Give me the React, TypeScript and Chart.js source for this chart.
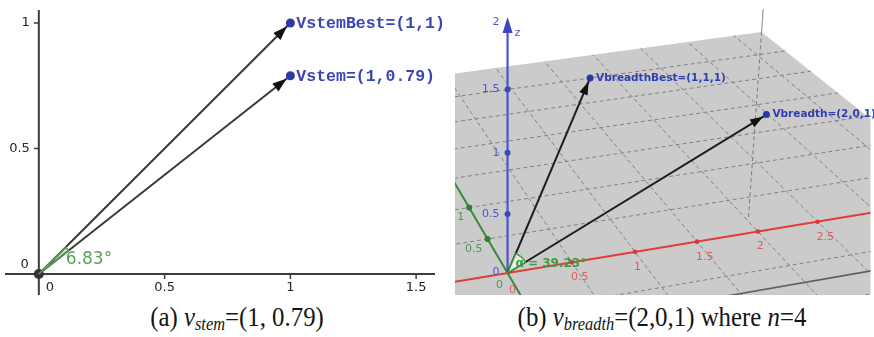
import React, { useEffect, useRef } from 'react';
import { Chart, registerables } from 'chart.js';

Chart.register(...registerables);

// ---------------- panel (a): 2D vectors ----------------
const stemNames = ['VstemBest', 'Vstem'];
const stemX = [1, 1];
const stemY = [1, 0.79];
const stemXTicks = [0, 0.5, 1, 1.5];
const stemYTicks = [0, 0.5, 1];
const stemAngleLabel = '6.83°';
const stemXRange = [-0.1345, 1.575];
const stemYRange = [-0.0837, 1.0518];

// ---------------- panel (b): 3D vectors ----------------
const breadthNames = ['VbreadthBest', 'Vbreadth'];
const breadthX = [1, 2];
const breadthY = [1, 0];
const breadthZ = [1, 1];
const axisXTicks3 = [0.5, 1, 1.5, 2, 2.5];
const axisYTicks3 = [0.5, 1];
const axisZTicks3 = [0.5, 1, 1.5, 2];
const breadthAngleLabel = 'α = 39.23°';
const planeX = [-2, 3.8];
const planeY = [-1.5, 3.5];
const gridStep = 0.5;
const boxZ = [-2.15, 0.25];
const nValue = 4;

// view (projection) of the 3D scene, in the hidden scale's units
const VIEW = { ax: [131, 21.5], ay: [-42, 71], az: [0, 116], depth: [0.019, 0.085, -0.0345] };
const sceneXRange = [-53, 366];
const sceneYRange = [-22, 268];

type P = { x: number; y: number };

function project(x: number, y: number, z: number): P {
  const d = 1 + VIEW.depth[0] * x + VIEW.depth[1] * y + VIEW.depth[2] * z;
  return {
    x: (VIEW.ax[0] * x + VIEW.ay[0] * y + VIEW.az[0] * z) / d,
    y: (VIEW.ax[1] * x + VIEW.ay[1] * y + VIEW.az[1] * z) / d,
  };
}

function segs(list: number[][][]): any[] {
  const out: any[] = [];
  list.forEach(([a, b]) => {
    out.push(project(a[0], a[1], a[2]), project(b[0], b[1], b[2]), { x: null, y: null });
  });
  return out;
}

function arrowHead(ctx: CanvasRenderingContext2D, from: P, to: P, len: number, half: number, back: number, color: string) {
  const dx = to.x - from.x, dy = to.y - from.y;
  const L = Math.hypot(dx, dy);
  const ux = dx / L, uy = dy / L;
  const tx = to.x - ux * back, ty = to.y - uy * back;
  const bx = tx - ux * len, by = ty - uy * len;
  ctx.beginPath();
  ctx.moveTo(tx, ty);
  ctx.lineTo(bx - uy * half, by + ux * half);
  ctx.lineTo(bx + uy * half, by - ux * half);
  ctx.closePath();
  ctx.fillStyle = color;
  ctx.fill();
}

const lineDs = (data: any[], color: string, width: number, order: number, dash: number[] = []) => ({
  data, showLine: true, borderColor: color, backgroundColor: color, borderWidth: width,
  borderDash: dash, pointRadius: 0, pointHoverRadius: 0, fill: false, tension: 0, order,
});
const dotDs = (data: any[], color: string, r: number, order: number) => ({
  data, showLine: false, pointRadius: r, pointHoverRadius: r, pointBackgroundColor: color,
  pointBorderColor: color, pointBorderWidth: 0, backgroundColor: color, borderColor: color, order,
});

const baseOptions = (xr: number[], yr: number[], padding: any) => ({
  responsive: false,
  animation: false as const,
  events: [] as any[],
  layout: { padding },
  scales: {
    x: { type: 'linear' as const, display: false, min: xr[0], max: xr[1] },
    y: { type: 'linear' as const, display: false, min: yr[0], max: yr[1] },
  },
  plugins: { legend: { display: false }, tooltip: { enabled: false }, colors: { enabled: false } },
});

function leftConfig(): any {
  const pts = stemX.map((x, i) => ({ x, y: stemY[i] }));
  const vec: any[] = [];
  pts.forEach((p) => vec.push({ x: 0, y: 0 }, p, { x: null, y: null }));
  const plugin = {
    id: 'stemAxes',
    beforeDatasetsDraw(chart: any) {
      const { ctx, chartArea: a, scales: { x: sx, y: sy } } = chart;
      const x0 = sx.getPixelForValue(0), y0 = sy.getPixelForValue(0);
      ctx.save();
      ctx.strokeStyle = '#3d3d3d';
      ctx.lineWidth = 2;
      ctx.beginPath();
      ctx.moveTo(a.left, y0); ctx.lineTo(a.right, y0);
      ctx.moveTo(x0, a.top); ctx.lineTo(x0, a.bottom);
      ctx.stroke();
      ctx.lineWidth = 1.5;
      ctx.font = '13px "DejaVu Sans"';
      ctx.fillStyle = '#262626';
      ctx.textBaseline = 'middle';
      stemXTicks.forEach((v) => {
        const px = sx.getPixelForValue(v);
        if (v !== 0) { ctx.beginPath(); ctx.moveTo(px, y0); ctx.lineTo(px, y0 + 5); ctx.stroke(); }
        ctx.textAlign = 'center';
        ctx.fillText(String(v), v === 0 ? px + 11 : px, y0 + 13.5);
      });
      stemYTicks.forEach((v) => {
        const py = sy.getPixelForValue(v);
        if (v !== 0) { ctx.beginPath(); ctx.moveTo(x0 - 5, py); ctx.lineTo(x0, py); ctx.stroke(); }
        ctx.textAlign = 'right';
        ctx.fillText(String(v), v === 0 ? x0 - 10 : x0 - 9, v === 0 ? py - 9 : py);
      });
      ctx.restore();
    },
    afterDatasetsDraw(chart: any) {
      const { ctx, scales: { x: sx, y: sy } } = chart;
      const o = { x: sx.getPixelForValue(0), y: sy.getPixelForValue(0) };
      const px = pts.map((p) => ({ x: sx.getPixelForValue(p.x), y: sy.getPixelForValue(p.y) }));
      ctx.save();
      // angle sector
      const angs = px.map((p) => Math.atan2(p.y - o.y, p.x - o.x));
      ctx.beginPath();
      ctx.moveTo(o.x, o.y);
      ctx.arc(o.x, o.y, 38, Math.min(...angs), Math.max(...angs));
      ctx.closePath();
      ctx.fillStyle = 'rgba(90,160,90,0.25)';
      ctx.fill();
      ctx.strokeStyle = '#5aa05a';
      ctx.lineWidth = 1.5;
      ctx.stroke();
      ctx.font = '17px "DejaVu Sans"';
      ctx.fillStyle = '#5aa05a';
      ctx.textAlign = 'left';
      ctx.textBaseline = 'middle';
      ctx.fillText(stemAngleLabel, o.x + 27, o.y - 14);
      // arrowheads
      px.forEach((p) => arrowHead(ctx, o, p, 14, 5, 5, '#111'));
      // labels
      ctx.font = 'bold 16.5px "Liberation Mono"';
      ctx.fillStyle = '#3b44b5';
      px.forEach((p, i) => ctx.fillText(`${stemNames[i]}=(${stemX[i]},${stemY[i]})`, p.x + 6, p.y + 1));
      ctx.restore();
    },
  };
  return {
    type: 'scatter',
    data: {
      datasets: [
        dotDs(pts, '#2b3aa8', 4.5, 0),
        dotDs([{ x: 0, y: 0 }], '#333333', 5, 1),
        lineDs(vec, '#3a3a3a', 2, 2),
      ],
    },
    options: baseOptions(stemXRange, stemYRange, { left: 3, right: 15, top: 10, bottom: 5 }),
    plugins: [plugin],
  };
}

function rightConfig(): any {
  const pts3 = breadthX.map((x, i) => [x, breadthY[i], breadthZ[i]]);
  const pts = pts3.map((p) => project(p[0], p[1], p[2]));
  const vec = segs(pts3.map((p) => [[0, 0, 0], p]));
  const grid: number[][][] = [];
  for (let k = Math.ceil(planeX[0] / gridStep); k * gridStep < planeX[1]; k++) {
    const x = k * gridStep;
    if (x <= planeX[0]) continue;
    grid.push([[x, planeY[0], 0], [x, planeY[1], 0]]);
  }
  for (let k = Math.ceil(planeY[0] / gridStep); k * gridStep < planeY[1]; k++) {
    const y = k * gridStep;
    if (y <= planeY[0]) continue;
    grid.push([[planeX[0], y, 0], [planeX[1], y, 0]]);
  }
  const cx = planeX[1], cy = planeY[1];
  const boxTop = segs([[[cx, cy, 0], [cx, cy, boxZ[1]]]]);
  const boxBottom = segs([[[2.5, 2.2, boxZ[0]], [5, 2.2, boxZ[0]]]]);
  const boxDashed = segs([[[cx, cy, boxZ[0]], [cx, cy, 0]]]);
  const xAxis = segs([[[-0.45, 0, 0], [4.5, 0, 0]]]);
  const yAxis = segs([[[0, -0.6, 0], [0, 1.7, 0]]]);
  const zTop = 2.05;
  const zAxis = segs([[[0, 0, 0], [0, 0, zTop - 0.08]]]);
  const xt = axisXTicks3.map((v) => project(v, 0, 0));
  const yt = axisYTicks3.map((v) => project(0, v, 0));
  const zt = axisZTicks3.filter((v) => v < 2).map((v) => project(0, 0, v));

  const plugin = {
    id: 'breadthScene',
    beforeDatasetsDraw(chart: any) {
      const { ctx, chartArea: a, scales: { x: sx, y: sy } } = chart;
      const toPx = (p: P) => ({ x: sx.getPixelForValue(p.x), y: sy.getPixelForValue(p.y) });
      const corners = [[planeX[0], planeY[0]], [planeX[1], planeY[0]], [planeX[1], planeY[1]], [planeX[0], planeY[1]]]
        .map(([x, y]) => toPx(project(x, y, 0)));
      ctx.save();
      ctx.beginPath();
      ctx.rect(a.left, a.top, a.right - a.left, a.bottom - a.top);
      ctx.clip();
      ctx.beginPath();
      corners.forEach((c, i) => (i ? ctx.lineTo(c.x, c.y) : ctx.moveTo(c.x, c.y)));
      ctx.closePath();
      ctx.fillStyle = '#cbcbcb';
      ctx.fill();
      ctx.restore();
    },
    afterDatasetsDraw(chart: any) {
      const { ctx, scales: { x: sx, y: sy } } = chart;
      const toPx = (p: P) => ({ x: sx.getPixelForValue(p.x), y: sy.getPixelForValue(p.y) });
      const o = toPx(project(0, 0, 0));
      const px = pts.map(toPx);
      ctx.save();
      // angle sector
      const angs = px.map((p) => Math.atan2(p.y - o.y, p.x - o.x));
      ctx.beginPath();
      ctx.moveTo(o.x, o.y);
      ctx.arc(o.x, o.y, 21, Math.min(...angs), Math.max(...angs));
      ctx.closePath();
      ctx.fillStyle = 'rgba(236,246,236,0.9)';
      ctx.fill();
      ctx.strokeStyle = '#3f9a3f';
      ctx.lineWidth = 1.5;
      ctx.stroke();
      // arrowheads
      px.forEach((p) => arrowHead(ctx, o, p, 13, 4.5, 4, '#111'));
      const zTip = toPx(project(0, 0, zTop));
      arrowHead(ctx, o, zTip, 16, 5, 0, '#3b46c0');
      ctx.textBaseline = 'middle';
      // angle label
      ctx.font = 'bold 12px "DejaVu Sans"';
      ctx.fillStyle = '#3f9a3f';
      ctx.textAlign = 'left';
      ctx.fillText(breadthAngleLabel, o.x + 8, o.y - 9);
      // vector labels
      ctx.font = 'bold 10.5px "DejaVu Sans"';
      ctx.fillStyle = '#2f3db0';
      px.forEach((p, i) => ctx.fillText(`${breadthNames[i]}=(${breadthX[i]},${breadthY[i]},${breadthZ[i]})`, p.x + 6, p.y));
      // axis tick labels
      ctx.font = '11px "DejaVu Sans"';
      ctx.fillStyle = '#4a56c8';
      ctx.textAlign = 'right';
      axisZTicks3.forEach((v) => {
        const p = toPx(project(0, 0, v));
        ctx.fillText(String(v), p.x - 8, v === 2 ? p.y - 2 : p.y);
      });
      ctx.fillText('0', o.x - 8, o.y - 1);
      ctx.textAlign = 'left';
      ctx.fillText('z', zTip.x + 7, zTip.y + 16);
      ctx.fillStyle = '#dd5c5c';
      axisXTicks3.forEach((v) => {
        const p = toPx(project(v, 0, 0));
        ctx.fillText(String(v), p.x - 1, p.y + 15);
      });
      ctx.textAlign = 'center';
      ctx.fillText('0', o.x + 5, o.y + 17);
      ctx.fillStyle = '#4c9a4c';
      ctx.textAlign = 'right';
      axisYTicks3.forEach((v) => {
        const p = toPx(project(0, v, 0));
        ctx.fillText(String(v), p.x - 5, p.y + 10);
      });
      ctx.textAlign = 'center';
      ctx.fillText('0', o.x - 8, o.y + 12);
      ctx.restore();
    },
  };

  return {
    type: 'scatter',
    data: {
      datasets: [
        dotDs(pts, '#2a37a8', 3.5, 0),
        dotDs(xt, '#d63a3a', 2.3, 1),
        dotDs(yt, '#2f7d2f', 3, 1),
        dotDs(zt, '#3a47b8', 3, 1),
        lineDs(vec, '#1e1e1e', 2, 2),
        lineDs(xAxis, '#e23b3b', 2, 3),
        lineDs(yAxis, '#3a8a3a', 2, 3),
        lineDs(zAxis, '#4b55c9', 2.2, 3),
        lineDs(boxTop, '#9a9a9a', 1.2, 4),
        lineDs(boxBottom, '#5f5f5f', 1.6, 4),
        lineDs(boxDashed, '#7a7a7a', 1, 4, [4, 3]),
        lineDs(segs(grid), '#808080', 1, 5, [4, 3]),
      ],
    },
    options: baseOptions(sceneXRange, sceneYRange, { left: 5, right: 0, top: 5, bottom: 5 }),
    plugins: [plugin],
  };
}

const capStyle: React.CSSProperties = {
  position: 'absolute',
  top: 304,
  fontFamily: '"Liberation Serif", "Times New Roman", serif',
  fontSize: 27,
  lineHeight: '27px',
  whiteSpace: 'nowrap',
  color: '#141414',
  transform: 'translateX(-50%) scaleX(0.92)',
  transformOrigin: 'center',
};
const subStyle: React.CSSProperties = { fontSize: '0.66em', fontStyle: 'italic', position: 'relative', top: '0.25em' };

export default function App() {
  const leftRef = useRef<HTMLCanvasElement>(null);
  const rightRef = useRef<HTMLCanvasElement>(null);
  useEffect(() => {
    const c1 = new Chart(leftRef.current as HTMLCanvasElement, leftConfig());
    const c2 = new Chart(rightRef.current as HTMLCanvasElement, rightConfig());
    return () => { c1.destroy(); c2.destroy(); };
  }, []);
  return (
    <div style={{ position: 'absolute', left: 0, top: 0, width: 874, height: 337, background: '#fff', overflow: 'hidden' }}>
      <canvas ref={leftRef} width={450} height={300} style={{ position: 'absolute', left: 0, top: 0 }} />
      <canvas ref={rightRef} width={424} height={300} style={{ position: 'absolute', left: 450, top: 0 }} />
      <div style={{ ...capStyle, left: 237 }}>
        (a) <i>v</i><span style={subStyle}>stem</span>=({stemX[1]}, {stemY[1]})
      </div>
      <div style={{ ...capStyle, left: 662 }}>
        (b) <i>v</i><span style={subStyle}>breadth</span>=({breadthX[1]},{breadthY[1]},{breadthZ[1]}) where <i>n</i>={nValue}
      </div>
    </div>
  );
}
